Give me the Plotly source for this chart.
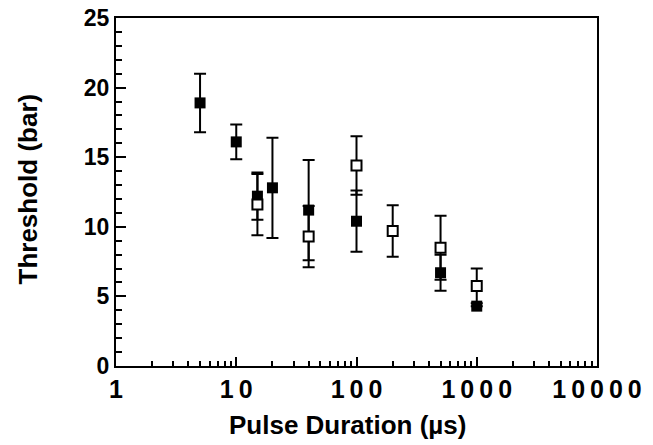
import plotly.graph_objects as go

# Filled squares series
filled_x = [5, 10, 15, 20, 40, 100, 500, 1000]
filled_y = [18.9, 16.1, 12.2, 12.8, 11.2, 10.4, 6.7, 4.3]
filled_err = [2.1, 1.25, 1.7, 3.6, 3.6, 2.2, 1.3, 0.0]

# Open squares series
open_x = [15, 40, 100, 200, 500, 1000]
open_y = [11.6, 9.3, 14.4, 9.7, 8.5, 5.75]
open_err = [2.2, 2.2, 2.1, 1.85, 2.3, 1.25]

SP = "\u2009"
x_tickvals = [1, 10, 100, 1000, 10000]
x_ticktext = [SP.join(str(v)) for v in x_tickvals]
x_minor = [m * 10 ** d for d in range(4) for m in range(2, 10)]

FONT = "Liberation Sans, Arial, sans-serif"

fig = go.Figure()
fig.add_trace(go.Scatter(
    x=filled_x, y=filled_y, mode="markers",
    marker=dict(symbol="square", size=11, color="black", line=dict(width=0)),
    error_y=dict(type="data", array=filled_err, visible=True,
                 color="black", thickness=2, width=6),
    showlegend=False,
))
fig.add_trace(go.Scatter(
    x=open_x, y=open_y, mode="markers",
    marker=dict(symbol="square", size=10, color="white",
                line=dict(width=2, color="black")),
    error_y=dict(type="data", array=open_err, visible=True,
                 color="black", thickness=2, width=6),
    showlegend=False,
))

fig.update_layout(
    width=653, height=445,
    margin=dict(l=116, r=56, t=18, b=79, autoexpand=False),
    paper_bgcolor="white", plot_bgcolor="white",
    font=dict(family=FONT, color="black", weight="bold"),
    annotations=[
        dict(text="Pulse Duration (µs)", xref="paper", yref="paper",
             x=0.482, y=-0.17, xanchor="center", yanchor="middle",
             showarrow=False, font=dict(size=26, family=FONT, weight="bold")),
        dict(text="Threshold (bar)", xref="paper", yref="paper",
             x=-0.183, y=0.51, xanchor="center", yanchor="middle",
             textangle=-90, showarrow=False,
             font=dict(size=26, family=FONT, weight="bold")),
    ],
)
fig.update_xaxes(
    type="log", range=[0, 4],
    tickmode="array", tickvals=x_tickvals, ticktext=x_ticktext,
    ticks="inside", ticklen=9, tickwidth=2, tickcolor="black",
    minor=dict(tickmode="array", tickvals=x_minor, ticks="inside",
               ticklen=5, tickwidth=2, tickcolor="black"),
    showline=True, linewidth=2, linecolor="black", mirror=True,
    showgrid=False, zeroline=False, automargin=False,
    ticklabeloverflow="allow",
    tickfont=dict(size=25, family=FONT, weight="bold"),
)
fig.update_yaxes(
    range=[0, 25], tickmode="linear", tick0=0, dtick=5,
    ticks="inside", ticklen=10, tickwidth=2, tickcolor="black",
    minor=dict(dtick=1, ticks="inside", ticklen=6, tickwidth=2, tickcolor="black"),
    showline=True, linewidth=2, linecolor="black", mirror=True,
    showgrid=False, zeroline=False, automargin=False,
    ticklabeloverflow="allow",
    tickfont=dict(size=23, family=FONT, weight="bold"),
)

fig.write_html("out.html", config={"displayModeBar": False},
               post_script="document.body.style.margin='0';")
